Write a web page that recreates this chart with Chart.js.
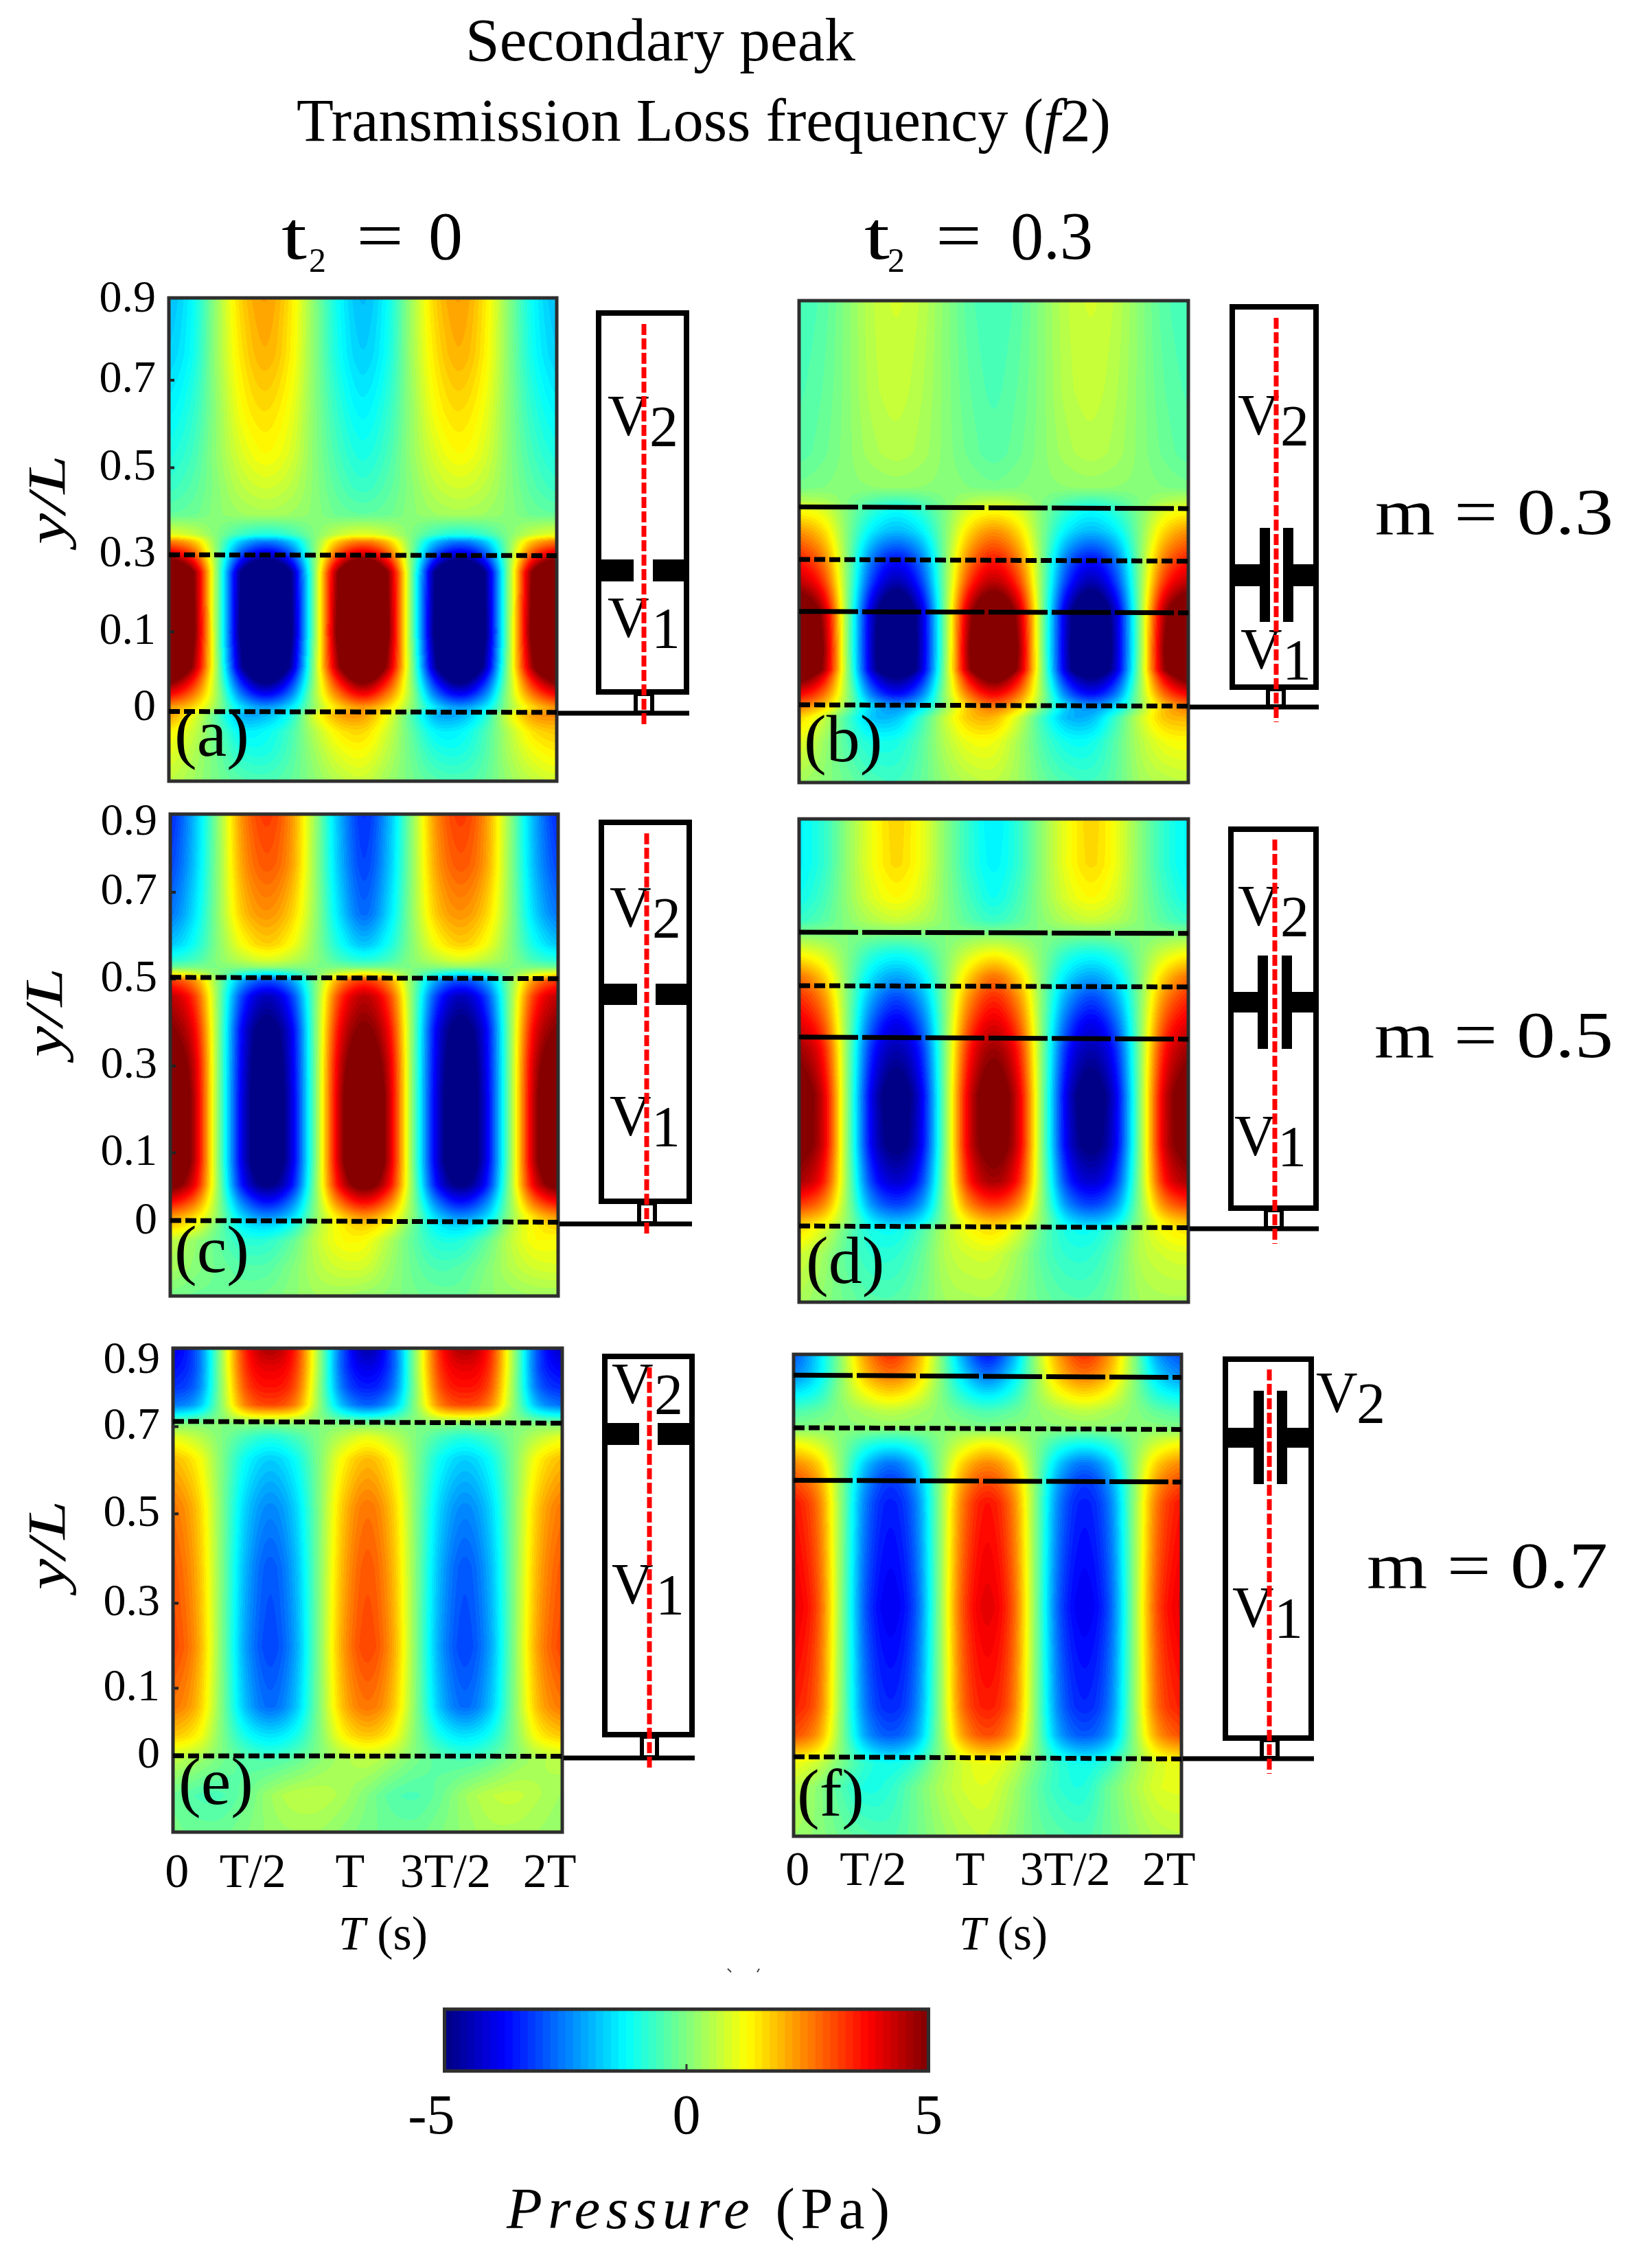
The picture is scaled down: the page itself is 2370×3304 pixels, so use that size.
<!DOCTYPE html>
<html>
<head>
<meta charset="utf-8">
<title>Secondary peak</title>
<script src="https://cdn.jsdelivr.net/npm/chart.js@4"></script>
<style>
  html, body { margin: 0; background: #fff; }
  #page { position: relative; width: 2370px; height: 3304px; overflow: hidden; }
  canvas, svg { position: absolute; }
  svg { left: 0; top: 0; pointer-events: none; }
</style>
</head>
<body>
<div id="page"></div>
<script>
// tick labels
const xTickVals = [0.02, 0.41, 0.91, 1.40, 1.935];
const xTickLabels = ['0', 'T/2', 'T', '3T/2', '2T'];
const yTickLabels = ['0', '0.1', '0.3', '0.5', '0.7', '0.9'];
const yTicksA = [-0.063, 0.113, 0.291, 0.49, 0.691, 0.875];
const yTicksC = [-0.058, 0.1, 0.3, 0.5, 0.7, 0.86];
const yTicksE = [-0.055, 0.1, 0.295, 0.5, 0.7, 0.85];
const cbTickVals = [-5.27, 0, 5];
const cbTickLabels = ['-5', '0', '5'];

// pressure (Pa), one row per y/L, one column every T/8
const yRowsA = [0.88, 0.749, 0.617, 0.523, 0.445, 0.383, 0.336, 0.321, 0.29, 0.25, 0.11, 0.032, 0.001, -0.03, -0.06, -0.08, -0.116, -0.162, -0.23];
const valuesA = [
  [-1.9,-1.2,.3,1.7,2.2,1.5,.1,-1.2,-1.9,-1.2,.3,1.7,2.2,1.5,.1,-1.2,-1.9],
  [-1.7,-1.1,.3,1.5,2,1.4,.1,-1.1,-1.7,-1.1,.3,1.5,2,1.4,.1,-1.1,-1.7],
  [-1.3,-.8,.2,1.2,1.55,1.1,.1,-.8,-1.3,-.8,.2,1.2,1.55,1.1,.1,-.8,-1.3],
  [-1,-.6,.2,.9,1.25,.9,.1,-.6,-1,-.6,.2,.9,1.25,.9,.1,-.6,-1],
  [-.7,-.4,.1,.6,.8,.6,.1,-.4,-.7,-.4,.1,.6,.8,.6,.1,-.4,-.7],
  [-.3,-.2,.1,.3,.4,.3,.1,-.2,-.3,-.2,.1,.3,.4,.3,.1,-.2,-.3],
  [1,.7,0,-.7,-1,-.7,0,.7,1,.7,0,-.7,-1,-.7,0,.7,1],
  [2.5,1.8,0,-1.8,-2.5,-1.8,0,1.8,2.5,1.8,0,-1.8,-2.5,-1.8,0,1.8,2.5],
  [4.3,3.1,0,-3.1,-4.2,-3.1,0,3.1,4.3,3.1,0,-3.1,-4.2,-3.1,0,3.1,4.3],
  [7,5,0,-5,-7,-5,0,5,7,5,0,-5,-7,-5,0,5,7],
  [7.5,5.2,0,-5.2,-7.5,-5.2,0,5.3,7.5,5.2,0,-5.2,-7.5,-5.2,0,5.3,7.5],
  [6.6,4.7,.2,-4.7,-6.6,-4.7,.2,4.7,6.6,4.7,.2,-4.7,-6.6,-4.7,.2,4.7,6.6],
  [5.2,3.6,.2,-3.6,-5.2,-3.6,.2,3.6,5.2,3.6,.2,-3.6,-5.2,-3.6,.2,3.6,5.2],
  [3.8,2.6,.3,-2.6,-3.8,-2.6,.3,2.6,3.8,2.6,.3,-2.6,-3.8,-2.6,.3,2.6,3.8],
  [2.2,1.6,.2,-1.5,-2.2,-1.5,.2,1.6,2.2,1.6,.2,-1.5,-2.2,-1.5,.2,1.6,2.3],
  [2.2,1,-.5,-2,-1.9,-1,.9,2.1,2.2,1.1,-.5,-2,-2,-1,.9,2.2,2.4],
  [1.3,.7,-.3,-1.3,-1.2,-.6,.5,1.4,1.6,.8,-.3,-1.3,-1.3,-.6,.5,1.5,1.8],
  [1,.5,-.2,-.9,-1,-.5,.3,1,1.2,.6,-.2,-.9,-1,-.5,.4,1.1,1.4],
  [.6,.3,-.1,-.4,-.5,-.3,.1,.5,.7,.3,-.1,-.4,-.5,-.3,.2,.6,.8]
];
const yRowsB = [0.88, 0.677, 0.529, 0.45, 0.419, 0.396, 0.349, 0.284, 0.232, 0.164, 0.076, 0.03, 0.013, -0.026, -0.051, -0.081, -0.135, -0.23];
const valuesB = [
  [-.6,-.4,.1,.6,.8,.6,.1,-.4,-.6,-.4,.1,.6,.8,.6,.1,-.4,-.6],
  [-.5,-.3,.1,.55,.7,.5,.1,-.3,-.5,-.3,.1,.55,.7,.5,.1,-.3,-.5],
  [-.4,-.2,.1,.4,.55,.4,.1,-.2,-.4,-.2,.1,.4,.55,.4,.1,-.2,-.4],
  [-.1,0,.1,.15,.2,.15,.1,0,-.1,0,.1,.15,.2,.15,.1,0,-.1],
  [.5,.4,0,-.4,-.6,-.4,0,.4,.6,.4,0,-.4,-.6,-.4,0,.4,.6],
  [1.2,.9,0,-.8,-1.2,-.8,0,.9,1.2,.9,0,-.8,-1.2,-.8,0,.9,1.2],
  [2.3,1.6,0,-1.4,-1.9,-1.4,0,1.6,2.3,1.6,0,-1.4,-1.9,-1.4,0,1.6,2.3],
  [3.5,2.5,0,-2.6,-3.6,-2.6,0,2.5,3.5,2.5,0,-2.6,-3.6,-2.6,0,2.5,3.5],
  [4.4,3.2,0,-3.2,-4.5,-3.2,0,3.2,4.4,3.2,0,-3.2,-4.5,-3.2,0,3.2,4.4],
  [6,4.5,0,-4.3,-6,-4.3,0,4.5,6,4.5,0,-4.3,-6,-4.3,0,4.5,6],
  [7,4.9,0,-4.4,-6.5,-4.4,0,4.9,7,4.9,0,-4.4,-6.5,-4.4,0,4.9,7],
  [6.5,4.7,.1,-4.3,-6,-4.3,.1,4.7,6.5,4.7,.1,-4.3,-6,-4.3,.1,4.7,6.5],
  [5.4,3.9,.1,-3.7,-5,-3.7,.1,3.9,5.4,3.9,.1,-3.7,-5,-3.7,.1,3.9,5.4],
  [3.8,2.7,.2,-2.6,-3.7,-2.6,.2,2.7,3.8,2.7,.2,-2.6,-3.7,-2.6,.2,2.7,3.8],
  [2.7,1.9,.1,-1.7,-2.4,-1.7,.1,1.9,2.7,1.9,.1,-1.7,-2.4,-1.7,.1,1.9,2.7],
  [1.6,.7,-.6,-1.8,-1.8,-.7,.7,1.8,1.9,.8,-.7,-1.9,-1.9,-.7,.7,1.8,2],
  [1,.3,-.5,-1,-1,-.4,.5,1.1,1.1,.4,-.5,-1.1,-1.1,-.4,.5,1.1,1.25],
  [.3,.1,-.2,-.5,-.6,-.3,.2,.5,.6,.3,-.2,-.5,-.6,-.3,.3,.5,.6]
];
const yRowsC = [0.88, 0.764, 0.65, 0.58, 0.544, 0.528, 0.513, 0.496, 0.46, 0.384, 0.309, 0.232, 0.079, 0.026, -0.012, -0.046, -0.069, -0.103, -0.164, -0.23];
const valuesC = [
  [-3.4,-1.9,.2,2.4,3.2,2.3,.2,-2,-3.3,-2,.2,2.4,3.2,2.3,.2,-2,-3.4],
  [-3.1,-1.8,.2,2.2,2.9,2.2,.2,-1.9,-3.1,-1.9,.2,2.2,2.9,2.2,.2,-1.9,-3.1],
  [-2.6,-1.5,.2,1.8,2.3,1.7,.2,-1.6,-2.7,-1.6,.2,1.8,2.3,1.7,.2,-1.6,-2.6],
  [-1.8,-1.1,.1,1.2,1.7,1.2,.1,-1.1,-1.8,-1.1,.1,1.2,1.7,1.2,.1,-1.1,-1.8],
  [-.9,-.6,.1,.6,.9,.6,.1,-.6,-.9,-.6,.1,.6,.9,.6,.1,-.6,-.9],
  [-.2,-.1,0,.1,.2,.1,0,-.1,-.2,-.1,0,.1,.2,.1,0,-.1,-.2],
  [1.2,.8,0,-.8,-1.2,-.8,0,.8,1.2,.8,0,-.8,-1.2,-.8,0,.8,1.2],
  [3.2,2.3,0,-2.2,-3,-2.2,0,2.3,3.2,2.3,0,-2.2,-3,-2.2,0,2.3,3.2],
  [4.4,3.2,0,-3.2,-4.4,-3.2,0,3.2,4.4,3.2,0,-3.2,-4.4,-3.2,0,3.2,4.4],
  [5,3.8,0,-3.9,-5.2,-3.9,0,3.8,5,3.8,0,-3.9,-5.2,-3.9,0,3.8,5],
  [5.6,4.2,0,-4,-5.6,-4,0,4.2,5.6,4.2,0,-4,-5.6,-4,0,4.2,5.6],
  [6.5,4.4,0,-4.1,-5.8,-4.1,0,4.4,6.5,4.4,0,-4.1,-5.8,-4.1,0,4.4,6.5],
  [6.5,4.4,0,-4.1,-5.8,-4.1,0,4.4,6.5,4.4,0,-4.1,-5.8,-4.1,0,4.4,6.5],
  [5.3,3.9,.1,-3.7,-5,-3.7,.1,3.9,5.3,3.9,.1,-3.7,-5,-3.7,.1,3.9,5.3],
  [3.8,2.7,.1,-2.6,-3.7,-2.6,.1,2.7,3.8,2.7,.1,-2.6,-3.7,-2.6,.1,2.7,3.8],
  [2.3,1.6,.1,-1.7,-2.4,-1.7,.1,1.6,2.3,1.6,.1,-1.7,-2.4,-1.7,.1,1.6,2.3],
  [1.7,1.1,-.2,-1.3,-1.6,-1,.4,1.3,1.7,1.1,-.2,-1.3,-1.6,-1,.4,1.3,1.7],
  [.6,.2,-.3,-.8,-.8,-.3,.6,1.2,1.2,.5,-.3,-.9,-.9,-.3,.6,1.2,1.2],
  [.4,.1,-.2,-.4,-.4,0,.5,.8,.8,.3,-.2,-.5,-.4,0,.5,.8,.9],
  [-.1,-.2,-.2,-.2,-.1,.1,.3,.3,.2,.1,-.1,-.2,-.2,.1,.2,.3,.3]
];
const yRowsD = [0.88, 0.776, 0.70, 0.647, 0.618, 0.571, 0.518, 0.472, 0.412, 0.351, 0.245, 0.131, 0.047, -0.006, -0.044, -0.067, -0.12, -0.23];
const valuesD = [
  [-1.3,-.8,.2,1.1,1.65,1.1,.1,-.8,-1.4,-.8,.2,1.1,1.65,1.1,.1,-.8,-1.3],
  [-1.3,-.8,.2,1.1,1.6,1.1,.1,-.8,-1.3,-.8,.2,1.1,1.6,1.1,.1,-.8,-1.3],
  [-1.1,-.6,.2,.9,1.25,.9,.1,-.6,-1.1,-.6,.2,.9,1.25,.9,.1,-.6,-1.1],
  [-.7,-.4,.1,.5,.7,.5,.1,-.4,-.7,-.4,.1,.5,.7,.5,.1,-.4,-.7],
  [0,0,0,0,0,0,0,0,0,0,0,0,0,0,0,0,0],
  [1.2,.8,0,-.8,-1.1,-.8,0,.8,1.2,.8,0,-.8,-1.1,-.8,0,.8,1.2],
  [2.6,1.7,0,-1.5,-2.1,-1.5,0,1.7,2.6,1.7,0,-1.5,-2.1,-1.5,0,1.7,2.6],
  [3.3,2.3,0,-2.1,-3,-2.1,0,2.3,3.3,2.3,0,-2.1,-3,-2.1,0,2.3,3.3],
  [4,2.9,0,-2.8,-3.9,-2.8,0,2.9,4,2.9,0,-2.8,-3.9,-2.8,0,2.9,4],
  [4.7,3.5,0,-3.4,-4.5,-3.4,0,3.5,4.7,3.5,0,-3.4,-4.5,-3.4,0,3.5,4.7],
  [5.5,4.1,0,-4,-5.4,-4,0,4.1,5.5,4.1,0,-4,-5.4,-4,0,4.1,5.5],
  [5.3,4.1,0,-3.9,-5.1,-3.9,0,4.1,5.3,4.1,0,-3.9,-5.1,-3.9,0,4.1,5.3],
  [4.6,3.5,.1,-3.2,-4.2,-3.2,.1,3.5,4.6,3.5,.1,-3.2,-4.2,-3.2,.1,3.5,4.6],
  [3.2,2.4,.1,-2.3,-3.1,-2.3,.1,2.4,3.2,2.4,.1,-2.3,-3.1,-2.3,.1,2.4,3.2],
  [1.9,1.4,.1,-1.4,-1.9,-1.4,.1,1.4,1.9,1.4,.1,-1.4,-1.9,-1.4,.1,1.4,1.9],
  [1.5,.8,-.3,-1,-1.1,-.5,.5,1.2,1.5,.8,-.3,-1,-1.1,-.5,.5,1.2,1.5],
  [.8,.3,-.4,-.8,-.8,-.3,.5,.8,.8,.3,-.4,-.8,-.8,-.3,.5,.8,.9],
  [.4,.1,-.2,-.4,-.4,-.1,.3,.4,.4,.1,-.2,-.4,-.4,-.1,.3,.4,.4]
];
const yRowsE = [0.88, 0.837, 0.79, 0.75, 0.731, 0.715, 0.704, 0.676, 0.626, 0.516, 0.378, 0.194, 0.057, -0.008, -0.044, -0.063, -0.145, -0.23];
const valuesE = [
  [-4,-2.8,.3,3.5,4.6,3.5,.3,-3,-4.6,-3,.3,3.5,4.6,3.5,.3,-3,-4.4],
  [-3.7,-2.8,.3,3.3,4,3.3,.3,-3,-4,-3,.3,3.3,4,3.3,.3,-3,-3.9],
  [-3.3,-2.6,.2,3,3.6,3,.2,-2.7,-3.5,-2.7,.2,3,3.6,3,.2,-2.7,-3.4],
  [-2.6,-2,.2,2.5,3.1,2.5,.2,-2,-2.8,-2,.2,2.5,3.1,2.5,.2,-2,-2.7],
  [-1.5,-1.1,.1,1.5,1.8,1.5,.1,-1.1,-1.6,-1.1,.1,1.5,1.8,1.5,.1,-1.1,-1.5],
  [-.5,-.3,.1,.5,.6,.5,.1,-.3,-.5,-.3,.1,.5,.6,.5,.1,-.3,-.5],
  [.1,.1,0,0,-.1,0,0,.1,.1,.1,0,0,-.1,0,0,.1,.1],
  [1,.6,0,-.6,-.9,-.6,0,.6,1,.6,0,-.6,-.9,-.6,0,.6,1],
  [1.9,1.3,0,-1.2,-1.7,-1.2,0,1.3,1.9,1.3,0,-1.2,-1.7,-1.2,0,1.3,1.9],
  [2.6,1.8,0,-1.7,-2.4,-1.7,0,1.8,2.6,1.8,0,-1.7,-2.4,-1.7,0,1.8,2.6],
  [2.9,2,0,-2,-2.9,-2,0,2,2.9,2,0,-2,-2.9,-2,0,2,2.9],
  [3.1,2.2,0,-2.2,-3.1,-2.2,0,2.2,3.1,2.2,0,-2.2,-3.1,-2.2,0,2.2,3.1],
  [2.6,1.9,0,-1.9,-2.7,-1.9,0,1.9,2.6,1.9,0,-1.9,-2.7,-1.9,0,1.9,2.6],
  [1.8,1.3,0,-1.1,-1.5,-1.1,0,1.3,1.8,1.3,0,-1.1,-1.5,-1.1,0,1.3,1.8],
  [1,.7,0,-.6,-.9,-.6,0,.7,1,.7,0,-.6,-.9,-.6,0,.7,1],
  [.6,.3,-.1,-.4,-.5,-.3,.1,.4,.6,.3,-.1,-.4,-.5,-.3,.1,.4,.6],
  [-.2,-.5,-.5,-.2,.3,.6,.6,.4,0,-.4,-.5,-.2,.3,.6,.7,.5,.3],
  [-.1,-.2,-.2,0,.2,.3,.3,.1,-.1,-.2,-.2,0,.2,.4,.4,.3,.2]
];
const yRowsF = [0.88, 0.832, 0.786, 0.749, 0.71, 0.675, 0.629, 0.589, 0.537, 0.298, 0.068, 0.003, -0.034, -0.062, -0.117, -0.23];
const valuesF = [
  [-2.9,-1.6,.3,2.3,3.3,2.3,.2,-2.2,-3.6,-2.2,.3,2.3,3.3,2.3,.2,-2.2,-3],
  [-2.4,-1.5,.2,1.9,2.6,1.9,.2,-1.6,-2.6,-1.6,.2,1.9,2.6,1.9,.2,-1.6,-2.4],
  [-1.3,-.9,.2,1.1,1.5,1.1,.1,-.9,-1.4,-.9,.2,1.1,1.5,1.1,.1,-.9,-1.3],
  [-.5,-.3,.1,.4,.6,.4,.1,-.3,-.5,-.3,.1,.4,.6,.4,.1,-.3,-.5],
  [0,.1,.1,.1,.1,.1,.1,.1,0,.1,.1,.1,.1,.1,.1,.1,0],
  [1.2,.8,0,-.8,-1.1,-.8,0,.8,1.2,.8,0,-.8,-1.1,-.8,0,.8,1.2],
  [2.4,1.7,0,-1.8,-2.6,-1.8,0,1.7,2.4,1.7,0,-1.8,-2.6,-1.8,0,1.7,2.4],
  [3,2.2,0,-2.3,-3.2,-2.3,0,2.2,3,2.2,0,-2.3,-3.2,-2.3,0,2.2,3],
  [3.6,2.6,0,-2.6,-3.5,-2.6,0,2.6,3.6,2.6,0,-2.6,-3.5,-2.6,0,2.6,3.6],
  [4,3,0,-3,-3.9,-3,0,3,4,3,0,-3,-3.9,-3,0,3,4],
  [3.5,2.7,0,-2.6,-3.4,-2.6,0,2.7,3.5,2.7,0,-2.6,-3.4,-2.6,0,2.7,3.5],
  [3,2.2,0,-2.2,-2.9,-2.2,0,2.2,3,2.2,0,-2.2,-2.9,-2.2,0,2.2,3],
  [1.9,1.4,0,-1.4,-1.9,-1.4,0,1.4,1.9,1.4,0,-1.4,-1.9,-1.4,0,1.4,1.9],
  [1.1,.7,-.1,-.8,-1.1,-.7,.2,.8,1.1,.7,-.1,-.8,-1.1,-.7,.2,.8,1.1],
  [.6,.1,-.5,-1,-.8,-.2,.4,.8,.9,.4,-.3,-.8,-.9,-.2,.4,.9,1],
  [.3,.1,-.2,-.4,-.5,-.2,.2,.5,.6,.2,-.2,-.4,-.5,-.2,.2,.5,.6]
];

// the dashed lines in each panel, [y/L at 0, y/L at 2T]
const shortLinesA = [[0.29, 0.288], [-0.07, -0.072]];
const longLinesA = [];
const shortLinesB = [[0.284, 0.28], [-0.051, -0.054]];
const longLinesB = [[0.405, 0.401], [0.164, 0.161]];
const shortLinesC = [[0.504, 0.501], [-0.056, -0.06]];
const longLinesC = [];
const shortLinesD = [[0.497, 0.494], [-0.055, -0.059]];
const longLinesD = [[0.62, 0.617], [0.379, 0.374]];
const shortLinesE = [[0.712, 0.708], [-0.055, -0.056]];
const longLinesE = [];
const shortLinesF = [[0.711, 0.707], [-0.047, -0.052]];
const longLinesF = [[0.832, 0.827], [0.59, 0.586]];

const page = document.getElementById('page');
const serif = '"Liberation Serif", serif';
const yMin = -0.23, yMax = 0.88;
const padL = 150, padT = 70, padR = 60, padB = 100;

function jet(level) {
  const x = (level + 0.5) / 64;
  const c = v => Math.round(255 * Math.max(0, Math.min(1, v)));
  return [
    c(Math.min(4 * x - 1.5, -4 * x + 4.5)),
    c(Math.min(4 * x - 0.5, -4 * x + 3.5)),
    c(Math.min(4 * x + 0.5, -4 * x + 2.5))
  ];
}
const jetTable = [];
for (let i = 0; i < 64; i++) jetTable.push(jet(i));

function catmull(row, u) {
  const i = Math.min(row.length - 2, Math.floor(u));
  const f = u - i;
  const p0 = row[Math.max(0, i - 1)], p1 = row[i], p2 = row[i + 1], p3 = row[Math.min(row.length - 1, i + 2)];
  return 0.5 * (2 * p1 + (p2 - p0) * f + (2 * p0 - 5 * p1 + 4 * p2 - p3) * f * f + (3 * p1 - p0 - 3 * p2 + p3) * f * f * f);
}

// shades the plot area like matlab's "shading interp" + 64 colour jet
const heatPlugin = {
  id: 'heat',
  beforeDatasetsDraw(chart, args, opts) {
    const a = chart.chartArea, ctx = chart.ctx;
    if (opts.rows) {
      const w = Math.round(a.right - a.left), h = Math.round(a.bottom - a.top);
      const img = ctx.createImageData(w, h);
      const cols = [];
      for (let px = 0; px < w; px++) {
        cols.push(chart.scales.x.getValueForPixel(a.left + px + 0.5) * 8);
      }
      let k = 0;
      for (let py = 0; py < h; py++) {
        const y = chart.scales.y.getValueForPixel(a.top + py + 0.5);
        let r = 0;
        while (r < opts.rows.length - 2 && y < opts.rows[r + 1]) r++;
        const f = Math.max(0, Math.min(1, (opts.rows[r] - y) / (opts.rows[r] - opts.rows[r + 1])));
        for (let px = 0; px < w; px++) {
          const v = catmull(opts.vals[r], cols[px]) * (1 - f) + catmull(opts.vals[r + 1], cols[px]) * f;
          const level = Math.max(0, Math.min(63, Math.floor((v + 5) / 10 * 64)));
          const col = jetTable[level];
          img.data[k++] = col[0];
          img.data[k++] = col[1];
          img.data[k++] = col[2];
          img.data[k++] = 255;
        }
      }
      ctx.putImageData(img, Math.round(a.left), Math.round(a.top));
    }
    if (opts.colorbar) {
      const sx = chart.scales.x;
      for (let i = 0; i < 64; i++) {
        const x0 = sx.getPixelForValue(-5 + i * 10 / 64), x1 = sx.getPixelForValue(-5 + (i + 1) * 10 / 64);
        const col = jetTable[i];
        ctx.fillStyle = `rgb(${col[0]},${col[1]},${col[2]})`;
        ctx.fillRect(x0, a.top, x1 - x0 + 0.6, a.bottom - a.top);
      }
      ctx.fillStyle = '#333';
      ctx.fillRect(sx.getPixelForValue(0) - 1.5, a.bottom - 10, 3, 10);
    }
    if (opts.stubs) {
      ctx.fillStyle = '#222';
      const ticks = chart.scales.y.ticks;
      for (let i = 1; i < ticks.length - 1; i++) {
        ctx.fillRect(a.left, chart.scales.y.getPixelForValue(ticks[i].value) - 2, 8, 4);
      }
    }
    ctx.strokeStyle = '#2e2e2e';
    ctx.lineWidth = 5;
    ctx.strokeRect(a.left, a.top, a.right - a.left, a.bottom - a.top);
  }
};
Chart.register(heatPlugin);

function lineSet(pair, dash) {
  return {
    data: [{ x: 0, y: pair[0] }, { x: 2, y: pair[1] }],
    showLine: true,
    borderColor: '#000',
    borderWidth: 7,
    borderDash: dash,
    pointRadius: 0,
    borderCapStyle: 'butt'
  };
}

function makePanel(p) {
  // p.l, p.r, p.t, p.b is the outer edge of the frame in the picture
  const plotW = p.r - p.l - 5, plotH = p.b - p.t - 5;
  const c = document.createElement('canvas');
  c.width = plotW + padL + padR;
  c.height = plotH + padT + padB;
  c.style.left = (p.l + 2.5 - padL) + 'px';
  c.style.top = (p.t + 2.5 - padT) + 'px';
  page.appendChild(c);
  const sets = p.shortLines.map(s => lineSet(s, [16, 6])).concat(p.longLines.map(s => lineSet(s, [86, 6])));
  new Chart(c, {
    type: 'scatter',
    data: { datasets: sets },
    options: {
      responsive: false,
      animation: false,
      events: [],
      layout: { padding: { top: padT, right: padR } },
      plugins: {
        legend: { display: false },
        tooltip: { enabled: false },
        heat: { rows: p.rows, vals: p.vals, stubs: !!p.yTicks }
      },
      scales: {
        x: {
          type: 'linear', min: 0, max: 2,
          grid: { display: false },
          border: { display: false },
          afterBuildTicks: s => { s.ticks = xTickVals.map(v => ({ value: v })); },
          afterFit: s => { s.height = padB; },
          ticks: {
            display: p.xPad !== undefined,
            autoSkip: false, maxRotation: 0, color: '#000', padding: p.xPad,
            font: { family: serif, size: 70 },
            callback: (v, i) => xTickLabels[i]
          }
        },
        y: {
          type: 'linear', min: yMin, max: yMax,
          grid: { display: false },
          border: { display: false },
          afterBuildTicks: s => { s.ticks = (p.yTicks || []).map(v => ({ value: v })); },
          afterFit: s => { s.width = padL; },
          ticks: {
            display: !!p.yTicks,
            autoSkip: false, color: '#000', padding: 11,
            font: { family: serif, size: 66 },
            callback: (v, i) => yTickLabels[i]
          }
        }
      }
    }
  });
}

makePanel({ l: 243, r: 813, t: 431, b: 1140, rows: yRowsA, vals: valuesA, shortLines: shortLinesA, longLines: longLinesA, yTicks: yTicksA });
makePanel({ l: 1161, r: 1733, t: 435, b: 1142, rows: yRowsB, vals: valuesB, shortLines: shortLinesB, longLines: longLinesB });
makePanel({ l: 245, r: 815, t: 1183, b: 1890, rows: yRowsC, vals: valuesC, shortLines: shortLinesC, longLines: longLinesC, yTicks: yTicksC });
makePanel({ l: 1161, r: 1733, t: 1190, b: 1899, rows: yRowsD, vals: valuesD, shortLines: shortLinesD, longLines: longLinesD });
makePanel({ l: 249, r: 821, t: 1961, b: 2671, rows: yRowsE, vals: valuesE, shortLines: shortLinesE, longLines: longLinesE, yTicks: yTicksE, xPad: 12 });
makePanel({ l: 1153, r: 1723, t: 1970, b: 2677, rows: yRowsF, vals: valuesF, shortLines: shortLinesF, longLines: longLinesF, xPad: 3 });

// colour bar
const cb = document.createElement('canvas');
cb.width = 870; cb.height = 230;
cb.style.left = '565px'; cb.style.top = '2916.5px';
page.appendChild(cb);
new Chart(cb, {
  type: 'scatter',
  data: { datasets: [] },
  options: {
    responsive: false,
    animation: false,
    events: [],
    layout: { padding: { top: 10, left: 82.5, right: 82.5 } },
    plugins: { legend: { display: false }, tooltip: { enabled: false }, heat: { colorbar: true } },
    scales: {
      y: { display: false, min: 0, max: 1 },
      x: {
        type: 'linear', min: -5, max: 5,
        grid: { display: false },
        border: { display: false },
        afterBuildTicks: s => { s.ticks = cbTickVals.map(v => ({ value: v })); },
        afterFit: s => { s.height = 130; },
        ticks: { autoSkip: false, maxRotation: 0, color: '#000', padding: 12, font: { family: serif, size: 82 }, callback: (v, i) => cbTickLabels[i] }
      }
    }
  }
});

// text and the little duct sketches go on top
function t(x, y, s, size, extra) {
  return `<text x="${x}" y="${y}" font-size="${size}" ${extra || ''}>${s}</text>`;
}
function sketch(s) {
  let o = `<rect x="${s.l + 4}" y="${s.t + 4}" width="${s.r - s.l - 8}" height="${s.b - s.t - 8}" fill="none" stroke="#000" stroke-width="8"/>`;
  o += `<rect x="${s.l}" y="${s.n0}" width="${s.g0 - s.l}" height="${s.n1 - s.n0}"/>`;
  o += `<rect x="${s.g1}" y="${s.n0}" width="${s.r - s.g1}" height="${s.n1 - s.n0}"/>`;
  if (s.w0) {
    o += `<rect x="${s.g0 - 15}" y="${s.w0}" width="15" height="${s.w1 - s.w0}"/>`;
    o += `<rect x="${s.g1}" y="${s.w0}" width="15" height="${s.w1 - s.w0}"/>`;
  }
  o += `<rect x="${s.sq0 + 3}" y="${s.b - 1}" width="${s.sq1 - s.sq0 - 6}" height="${s.base - s.b}" fill="#fff" stroke="#000" stroke-width="6"/>`;
  o += `<rect x="${s.from}" y="${s.base - 3.5}" width="${s.r - s.from}" height="7"/>`;
  o += t(s.vx, s.v2y, 'V', 84) + t(s.n2x, s.v2y + 16, '2', 84);
  o += t(s.vx1 || s.vx, s.v1y, 'V', 84) + t(s.n1x, s.v1y + 16, '1', 84);
  o += `<line x1="${s.rx}" y1="${s.ry0}" x2="${s.rx}" y2="${s.ry1}" stroke="#f00" stroke-width="7" stroke-dasharray="16 5"/>`;
  return o;
}

const wide = 'lengthAdjust="spacingAndGlyphs"';
let svg = '';
svg += t(678, 88, 'Secondary peak', 88, `textLength="568" ${wide}`);
svg += t(432, 205, 'Transmission Loss frequency (<tspan font-style="italic">f</tspan>2)', 88, `textLength="1186" ${wide}`);
svg += t(410, 377, 't', 100, `textLength="37" ${wide}`) + t(450, 396, '2', 50) + t(519, 377, '=', 100, `textLength="69" ${wide}`) + t(624, 377, '0', 100);
svg += t(1259, 377, 't', 100, `textLength="37" ${wide}`) + t(1293, 396, '2', 50) + t(1363, 377, '=', 100, `textLength="67" ${wide}`) + t(1472, 377, '0.3', 100, `textLength="120" ${wide}`);
svg += t(2003, 778, 'm = 0.3', 96, `textLength="347" ${wide}`);
svg += t(2002, 1540, 'm = 0.5', 96, `textLength="348" ${wide}`);
svg += t(1991, 2313, 'm = 0.7', 96, `textLength="351" ${wide}`);
svg += t(254, 1101, '(a)', 98) + t(1171, 1109, '(b)', 98) + t(254, 1853, '(c)', 98);
svg += t(1174, 1869, '(d)', 98) + t(260, 2628, '(e)', 98) + t(1161, 2645, '(f)', 98);
for (const [cx, cy] of [[94, 728], [90, 1475], [94, 2251]]) {
  svg += `<text transform="translate(${cx},${cy}) rotate(-90)" text-anchor="middle" font-size="78" font-style="italic" textLength="130" ${wide}>y/L</text>`;
}
svg += t(493, 2840, '<tspan font-style="italic">T</tspan> (s)', 70, `textLength="130" ${wide}`);
svg += t(1397, 2840, '<tspan font-style="italic">T</tspan> (s)', 70, `textLength="129" ${wide}`);
svg += t(738, 3246, '<tspan font-style="italic">Pressure</tspan> (Pa)', 85, 'textLength="558" lengthAdjust="spacing"');
svg += '<path d="M1060 2868l5 5M1106 2868l-3 5" stroke="#444" stroke-width="2" fill="none"/>';

svg += sketch({ l: 868, r: 1004, t: 452, b: 1012, n0: 815, n1: 847, g0: 923, g1: 951, sq0: 923, sq1: 953, base: 1039, from: 813, rx: 938, ry0: 472, ry1: 1059, vx: 885, v2y: 634, n2x: 946, v1y: 928, n1x: 949 });
svg += sketch({ l: 1791, r: 1921, t: 443, b: 1005, n0: 822, n1: 854, g0: 1850, g1: 1869, w0: 769, w1: 906, sq0: 1844, sq1: 1873, base: 1030, from: 1733, rx: 1859, ry0: 463, ry1: 1052, vx: 1803, v2y: 633, n2x: 1865, vx1: 1807, v1y: 974, n1x: 1868 });
svg += sketch({ l: 872, r: 1008, t: 1194, b: 1754, n0: 1433, n1: 1464, g0: 928, g1: 955, sq0: 928, sq1: 957, base: 1783, from: 815, rx: 942, ry0: 1214, ry1: 1801, vx: 888, v2y: 1350, n2x: 950, v1y: 1654, n1x: 949 });
svg += sketch({ l: 1789, r: 1921, t: 1204, b: 1764, n0: 1445, n1: 1475, g0: 1847, g1: 1867, w0: 1392, w1: 1528, sq0: 1841, sq1: 1870, base: 1790, from: 1733, rx: 1857, ry0: 1223, ry1: 1812, vx: 1803, v2y: 1348, n2x: 1865, vx1: 1798, v1y: 1683, n1x: 1861 });
svg += sketch({ l: 877, r: 1012, t: 1972, b: 2531, n0: 2073, n1: 2105, g0: 931, g1: 958, sq0: 932, sq1: 960, base: 2561, from: 821, rx: 946, ry0: 1992, ry1: 2580, vx: 891, v2y: 2044, n2x: 953, v1y: 2336, n1x: 955 });
svg += sketch({ l: 1781, r: 1914, t: 1976, b: 2536, n0: 2080, n1: 2109, g0: 1841, g1: 1860, w0: 2026, w1: 2162, sq0: 1835, sq1: 1864, base: 2562, from: 1723, rx: 1849, ry0: 1995, ry1: 2584, vx: 1917, v2y: 2057, n2x: 1976, vx1: 1795, v1y: 2370, n1x: 1856 });

page.insertAdjacentHTML('beforeend', `<svg width="2370" height="3304" font-family='"Liberation Serif", serif' fill="#000">${svg}</svg>`);
</script>
</body>
</html>
